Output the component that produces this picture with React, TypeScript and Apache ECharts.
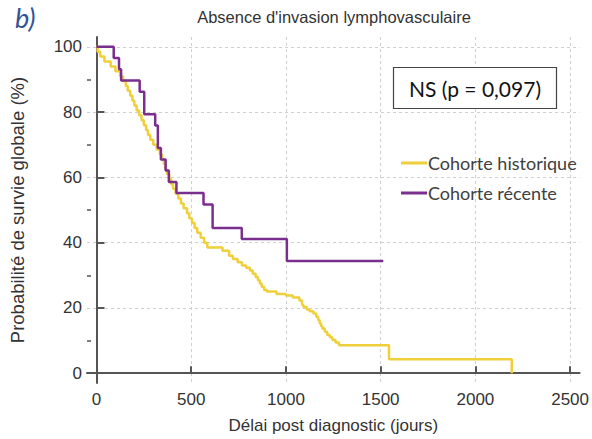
import React, { useEffect, useRef } from "react";
import * as echarts from "echarts";

const xTicks = [0, 500, 1000, 1500, 2000, 2500];
const yTicks = [0, 20, 40, 60, 80, 100];
const yMinorTicks = [10, 30, 50, 70, 90];

const seriesNames = ["Cohorte historique", "Cohorte récente"];

const historiqueDays = [
  0, 6, 20, 42, 75, 100, 125, 140, 155, 165, 178, 190, 200, 212, 225, 238, 250, 262, 272, 284,
  300, 318, 335, 347, 356, 363, 372, 384, 394, 404, 418, 432, 446, 460, 478, 490, 504, 518, 532,
  550, 568, 585, 665, 700, 720, 745, 768, 790, 810, 825, 840, 852, 862, 872, 885, 900, 950, 1000,
  1036, 1071, 1085, 1092, 1110, 1125, 1145, 1160, 1170, 1178, 1185, 1192, 1205, 1218, 1232, 1245,
  1262, 1280, 1544, 2192,
];
const historiqueSurvie = [
  100, 98.5, 97, 95.5, 94, 92.5, 91, 89.5, 88, 86.5, 85, 83.5, 82, 80.5, 79, 77.5, 76, 74.5, 73,
  71.5, 70, 68.5, 67, 65.5, 64, 62.5, 61, 59.5, 58, 56.5, 55, 53.5, 52, 50.5, 49, 47.5, 46, 44.5,
  43, 41.5, 40, 38.5, 37.5, 36, 35, 34, 33, 32.3, 31.5, 30.5, 29.5, 28.5, 27.5, 26.5, 25.5, 25,
  24.3, 23.8, 23.2, 22.3, 21, 20.3, 19.5, 19, 18.3, 17.3, 16.3, 15.3, 14.5, 13.7, 12.7, 11.7, 11,
  10.2, 9.4, 8.6, 4.3, 0,
];

const recenteDays = [0, 91, 119, 130, 228, 252, 310, 324, 340, 365, 382, 422, 565, 613, 767, 1005, 1514];
const recenteSurvie = [100, 96.6, 93.1, 89.7, 86.2, 79.3, 75.9, 69.0, 65.5, 62.1, 58.6, 55.2, 51.7, 44.5, 41.1, 34.4, 34.4];

const colors = ["#EFCF3A", "#7A2E8E"];

export default function App() {
  const ref = useRef<HTMLDivElement>(null);
  useEffect(() => {
    if (!ref.current) return;
    const chart = echarts.init(ref.current, null, { renderer: "svg" });
    const hist = historiqueDays.map((d, i) => [d, historiqueSurvie[i]]);
    const rec = recenteDays.map((d, i) => [d, recenteSurvie[i]]);
    const family = "Liberation Sans, Arial, sans-serif";
    const tickFont = { fontFamily: family, fontSize: 17, color: "#333" };
    chart.setOption({
      animation: false,
      backgroundColor: "#fff",
      grid: { left: 86, top: 37, width: 495, height: 350, containLabel: false },
      legend: {
        orient: "vertical",
        left: 396,
        top: 148,
        itemWidth: 26,
        itemHeight: 3,
        itemGap: 10,
        icon: "rect",
        data: seriesNames,
        textStyle: { fontFamily: "Lato", fontSize: 18, color: "#404040", lineHeight: 20, padding: [0, 0, 0, -4] },
      },
      xAxis: {
        type: "value",
        min: -50,
        max: 2550,
        name: "Délai post diagnostic (jours)",
        nameLocation: "middle",
        nameGap: 34,
        nameTextStyle: { fontFamily: family, fontSize: 17, color: "#333" },
        axisLine: { show: true, lineStyle: { color: "#555", width: 2 } },
        axisTick: { show: true, inside: true, length: 7, lineStyle: { color: "#555", width: 2 }, customValues: xTicks },
        axisLabel: { ...tickFont, margin: 8, customValues: xTicks, formatter: (v: number) => String(v) },
        splitLine: { show: true, lineStyle: { color: "#cfcfcf", type: [3, 3], width: 1 } },
      },
      yAxis: [
        {
          type: "value",
          min: -3,
          max: 103,
          name: "Probabilité de survie globale (%)",
          nameLocation: "middle",
          nameGap: 60,
          nameTextStyle: { fontFamily: family, fontSize: 18.5, color: "#333" },
          axisLine: { show: true, lineStyle: { color: "#555", width: 2 } },
          axisTick: { show: true, inside: true, length: 8, lineStyle: { color: "#555", width: 2 }, customValues: yTicks },
          axisLabel: { ...tickFont, margin: 5, customValues: yTicks, formatter: (v: number) => String(v) },
          splitLine: { show: true, lineStyle: { color: "#cfcfcf", type: [3, 3], width: 1 } },
        },
        {
          type: "value",
          min: -3,
          max: 103,
          position: "left",
          axisLine: { show: false },
          axisTick: { show: true, inside: true, length: 4, lineStyle: { color: "#555", width: 1.5 }, customValues: yMinorTicks },
          axisLabel: { show: false },
          splitLine: { show: false },
        },
      ],
      series: [
        {
          name: seriesNames[0],
          type: "line",
          step: "end",
          data: hist,
          showSymbol: false,
          color: colors[0],
          lineStyle: { color: colors[0], width: 2.5 },
          z: 2,
        },
        {
          name: seriesNames[1],
          type: "line",
          step: "end",
          data: rec,
          showSymbol: false,
          color: colors[1],
          lineStyle: { color: colors[1], width: 2.5 },
          z: 3,
        },
      ],
      graphic: [
        {
          type: "text",
          left: 15,
          top: 4,
          style: { text: "b)", fontFamily: "Lato", fontStyle: "italic", fontSize: 27, fill: "#2F5597" },
        },
        {
          type: "text",
          x: 334,
          y: 17,
          style: {
            text: "Absence d'invasion lymphovasculaire",
            fontFamily: family,
            fontSize: 16.5,
            fill: "#333",
            align: "center",
            verticalAlign: "middle",
          },
        },
        {
          type: "rect",
          shape: { x: 393.5, y: 67.5, width: 163, height: 41 },
          style: { fill: "#fff", stroke: "#444", lineWidth: 1.2 },
          z: 10,
        },
        {
          type: "text",
          x: 475,
          y: 88,
          z: 11,
          style: {
            text: "NS (p = 0,097)",
            fontFamily: "Lato",
            fontSize: 21,
            fill: "#111",
            align: "center",
            verticalAlign: "middle",
          },
        },
      ],
    });
    return () => chart.dispose();
  }, []);
  return <div ref={ref} style={{ position: "absolute", left: 0, top: 0, width: 592, height: 439 }} />;
}
